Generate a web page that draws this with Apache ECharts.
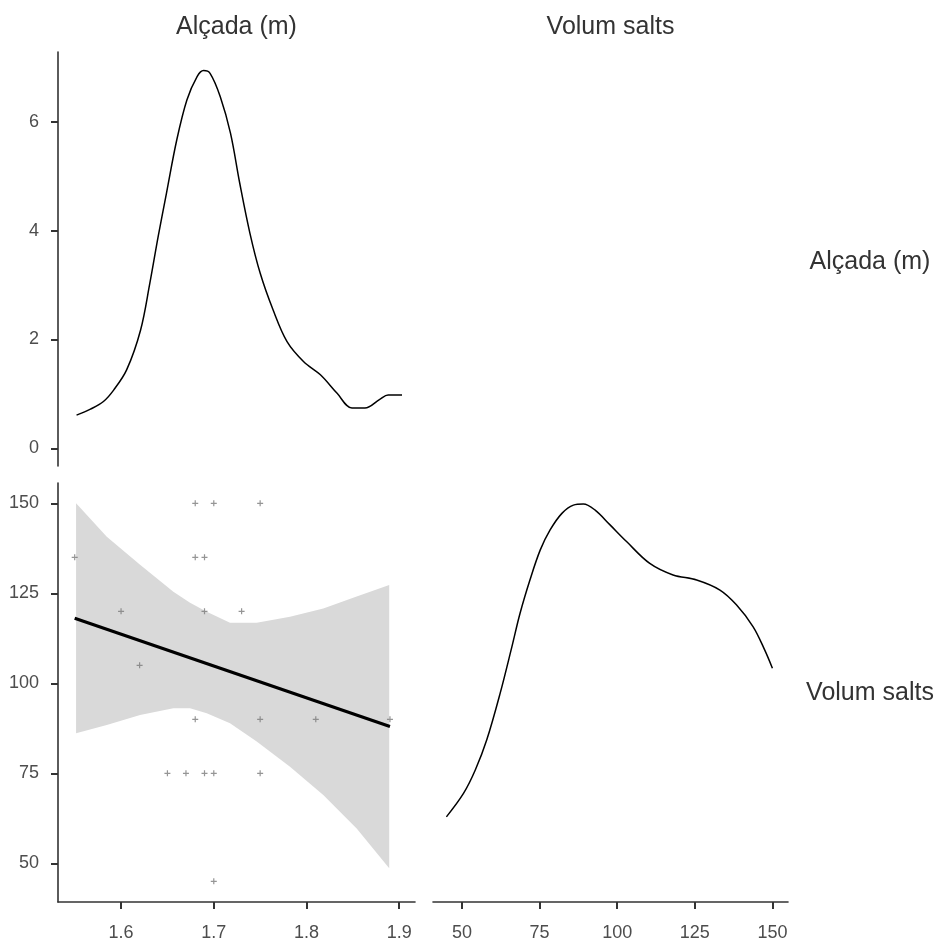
<!DOCTYPE html>
<html>
<head>
<meta charset="utf-8">
<title>Alçada vs Volum salts</title>
<script src="https://cdn.jsdelivr.net/npm/echarts@6/dist/echarts.min.js"></script>
<style>
	html, body { margin: 0; padding: 0; background: #fff; }
	#chart { width: 942px; height: 944px; }
</style>
</head>
<body>
<div id="chart"></div>
<script>
// density of Alçada (m) - top left panel
const alcadaDensX = [1.552, 1.567, 1.581, 1.592, 1.606, 1.621, 1.631, 1.640, 1.649, 1.660, 1.671, 1.682, 1.689, 1.696, 1.707, 1.718, 1.728, 1.739, 1.750, 1.764, 1.779, 1.797, 1.815, 1.833, 1.849, 1.863, 1.879, 1.888, 1.903]
const alcadaDensY = [0.61, 0.72, 0.86, 1.07, 1.44, 2.17, 3.03, 3.89, 4.69, 5.66, 6.40, 6.83, 6.94, 6.89, 6.46, 5.79, 4.87, 3.95, 3.22, 2.54, 1.96, 1.59, 1.35, 1.01, 0.74, 0.74, 0.90, 0.98, 0.98]

// density of Volum salts - bottom right panel (drawn on the row's scale)
const volumDensX = [45.0, 50.5, 54.3, 58.0, 62.3, 66.1, 68.7, 71.9, 75.2, 78.4, 82.2, 85.9, 89.1, 92.9, 97.7, 103.1, 110.5, 118.0, 125.6, 133.1, 138.4, 143.8, 147.5, 150.0]
const volumDensY = [62.9, 69.4, 75.9, 84.3, 97.2, 110.2, 119.4, 128.7, 137.0, 142.6, 147.2, 149.5, 149.8, 148.1, 144.0, 139.3, 133.3, 130.1, 128.7, 125.9, 121.8, 115.7, 109.3, 104.2]

// scatter: Alçada (m) vs Volum salts
const pointAlcada = [1.55, 1.68, 1.70, 1.75, 1.68, 1.69, 1.60, 1.69, 1.73, 1.62, 1.68, 1.75, 1.81, 1.89, 1.65, 1.67, 1.69, 1.70, 1.75, 1.70]
const pointVolum = [135, 150, 150, 150, 135, 135, 120, 120, 120, 105, 90, 90, 90, 90, 75, 75, 75, 75, 75, 45]

// fitted line and its confidence band
const fitX = [1.55, 1.89]
const fitY = [118.1, 88.0]
const bandX = [1.5515, 1.5846, 1.6205, 1.6564, 1.6744, 1.6924, 1.7175, 1.7463, 1.7822, 1.8181, 1.8541, 1.8892]
const bandUpper = [150.0, 140.7, 132.9, 125.4, 122.4, 119.9, 116.8, 116.8, 118.5, 120.8, 124.1, 127.3]
const bandLower = [86.1, 88.4, 91.2, 93.1, 93.1, 91.7, 88.9, 83.8, 76.8, 69.0, 59.7, 48.6]

// tick labels
const alcadaTicks = [1.6, 1.7, 1.8, 1.9]
const densTicks = [0, 2, 4, 6]
const volumTicks = [50, 75, 100, 125, 150]

const panelLabels = ["Alçada (m)", "Volum salts"]

const FONT = "'Liberation Sans', Arial, sans-serif"

const axisStyle = (ticks, margin) => ({
	axisLine: { show: true, lineStyle: { color: "#333", width: 1.6 } },
	axisTick: { show: true, length: 7, customValues: ticks, lineStyle: { color: "#333", width: 2 } },
	axisLabel: { show: true, customValues: ticks, margin: margin, color: "#4d4d4d", fontSize: 18, fontFamily: FONT },
	splitLine: { show: false },
})

const zip = (a, b) => a.map((v, i) => [v, b[i]])

const labelText = (text, x, y) => ({
	type: "text",
	x: x,
	y: y,
	style: { text: text, font: "25px " + FONT, fill: "#333", align: "center", verticalAlign: "middle" },
})

const chartDom = document.getElementById("chart")
const chart = echarts.init(chartDom, null, { renderer: "canvas" })

let options = {
	animation: false,
	backgroundColor: "#fff",
	grid: [
		{ left: 58, top: 52, width: 357, height: 414 },
		{ left: 58, top: 483, width: 357, height: 419 },
		{ left: 433, top: 483, width: 355, height: 419 },
	],
	xAxis: [
		{ type: "value", gridIndex: 0, min: 1.532, max: 1.917, show: false },
		{ type: "value", gridIndex: 1, min: 1.532, max: 1.917, ...axisStyle(alcadaTicks, 22) },
		{ type: "value", gridIndex: 2, min: 40.68, max: 155.02, ...axisStyle(volumTicks, 22) },
	],
	yAxis: [
		{ type: "value", gridIndex: 0, min: -0.325, max: 7.281, ...axisStyle(densTicks, 19) },
		{ type: "value", gridIndex: 1, min: 39.25, max: 155.64, ...axisStyle(volumTicks, 19) },
		{ type: "value", gridIndex: 2, min: 39.25, max: 155.64, show: false },
	],
	graphic: [
		labelText(panelLabels[0], 236.5, 27),
		labelText(panelLabels[1], 610.5, 27),
		labelText(panelLabels[0], 870, 262),
		labelText(panelLabels[1], 870, 693),
	],
	series: [
		{
			type: "line",
			xAxisIndex: 0,
			yAxisIndex: 0,
			data: zip(alcadaDensX, alcadaDensY),
			smooth: 0.35,
			symbol: "none",
			lineStyle: { color: "#000", width: 1.5 },
			silent: true,
		},
		{
			type: "custom",
			xAxisIndex: 1,
			yAxisIndex: 1,
			data: [[bandX[0], bandUpper[0]]],
			renderItem: (params, api) => {
				let pts = []
				for (let i = 0; i < bandX.length; i++) pts.push(api.coord([bandX[i], bandUpper[i]]))
				for (let i = bandX.length - 1; i >= 0; i--) pts.push(api.coord([bandX[i], bandLower[i]]))
				return { type: "polygon", shape: { points: pts }, style: { fill: "#d9d9d9" } }
			},
			z: 1,
			silent: true,
		},
		{
			type: "scatter",
			xAxisIndex: 1,
			yAxisIndex: 1,
			data: zip(pointAlcada, pointVolum),
			symbol: "path://M2,0L3,0L3,2L5,2L5,3L3,3L3,5L2,5L2,3L0,3L0,2L2,2Z",
			symbolSize: 6,
			itemStyle: { color: "#7a7a7a" },
			z: 3,
			silent: true,
		},
		{
			type: "line",
			xAxisIndex: 1,
			yAxisIndex: 1,
			data: zip(fitX, fitY),
			symbol: "none",
			lineStyle: { color: "#000", width: 3.2 },
			z: 4,
			silent: true,
		},
		{
			type: "line",
			xAxisIndex: 2,
			yAxisIndex: 2,
			data: zip(volumDensX, volumDensY),
			smooth: 0.35,
			symbol: "none",
			lineStyle: { color: "#000", width: 1.5 },
			silent: true,
		},
	],
}

chart.setOption(options)
</script>
</body>
</html>
